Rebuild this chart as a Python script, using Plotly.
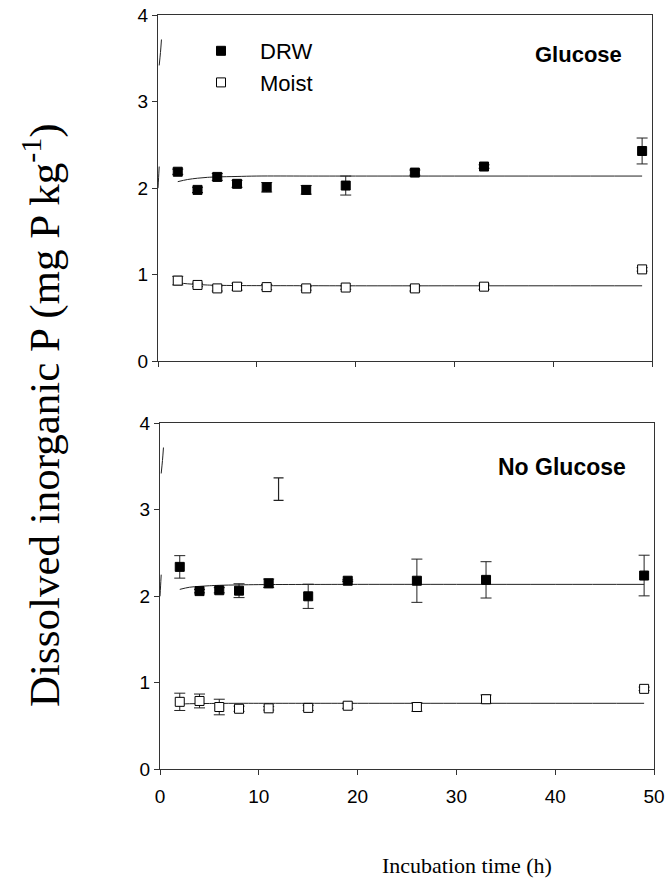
import plotly.graph_objects as go

# ---- data ----
time_h = [2, 4, 6, 8, 11, 15, 19, 26, 33, 49]

glu_drw = [2.19, 1.98, 2.13, 2.05, 2.01, 1.98, 2.03, 2.18, 2.25, 2.43]
glu_drw_err = [0.03, 0.03, 0.04, 0.04, 0.055, 0.05, 0.11, 0.03, 0.02, 0.15]
glu_moist = [0.93, 0.88, 0.84, 0.86, 0.855, 0.84, 0.85, 0.84, 0.86, 1.06]
glu_moist_err = [0.05, 0.02, 0.03, 0.04, 0.03, 0.02, 0.02, 0.03, 0.03, 0.02]

nog_drw = [2.34, 2.06, 2.07, 2.065, 2.15, 2.00, 2.18, 2.18, 2.19, 2.24]
nog_drw_err = [0.13, 0.02, 0.03, 0.08, 0.05, 0.14, 0.01, 0.25, 0.21, 0.235]
nog_moist = [0.78, 0.79, 0.72, 0.70, 0.705, 0.71, 0.735, 0.72, 0.81, 0.93]
nog_moist_err = [0.10, 0.08, 0.09, 0.03, 0.02, 0.03, 0.03, 0.05, 0.05, 0.02]

# fitted curves
fit_x = [2, 3, 4, 5, 6, 8, 10, 15, 20, 30, 40, 49]
glu_drw_fit = [2.075, 2.10, 2.115, 2.125, 2.13, 2.135, 2.14, 2.14, 2.14, 2.14, 2.14, 2.14]
glu_moist_fit = [0.905, 0.893, 0.885, 0.879, 0.876, 0.873, 0.872, 0.871, 0.87, 0.87, 0.87, 0.87]
nog_drw_fit = [2.08, 2.105, 2.115, 2.122, 2.127, 2.132, 2.135, 2.137, 2.138, 2.138, 2.138, 2.138]
nog_moist_fit = [0.755, 0.758, 0.76, 0.761, 0.762, 0.763, 0.763, 0.763, 0.763, 0.763, 0.763, 0.763]

# stray error bar in lower panel
stray_x = [12]
stray_y = [3.24]
stray_err = [0.13]

# small stray strokes near the left axes
stroke_x = [0.35, 0.25, 0.12]
stroke_y = [3.72, 3.57, 3.42]
stroke2_x = [0.12, 0.06, 0.0]
stroke2_y = [2.25, 2.12, 2.0]

x_ticks = [0, 10, 20, 30, 40, 50]
y_ticks = [0, 1, 2, 3, 4]

AX = "#333333"
fig = go.Figure()

def add_panel(xa, ya, drw, drw_err, moist, moist_err, drw_fit, moist_fit, legend):
    fig.add_trace(go.Scatter(x=fit_x, y=drw_fit, mode="lines", line=dict(color="#222", width=1, shape="spline"),
                             xaxis=xa, yaxis=ya, showlegend=False, hoverinfo="skip"))
    fig.add_trace(go.Scatter(x=fit_x, y=moist_fit, mode="lines", line=dict(color="#222", width=1, shape="spline"),
                             xaxis=xa, yaxis=ya, showlegend=False, hoverinfo="skip"))
    fig.add_trace(go.Scatter(x=time_h, y=drw, mode="markers", name="DRW",
                             marker=dict(symbol="square", size=9, color="black", line=dict(color="black", width=1)),
                             error_y=dict(type="data", array=drw_err, color="#222", thickness=1, width=5.5),
                             xaxis=xa, yaxis=ya, showlegend=legend))
    fig.add_trace(go.Scatter(x=time_h, y=moist, mode="markers", name="Moist",
                             marker=dict(symbol="square", size=9, color="white", line=dict(color="black", width=1)),
                             error_y=dict(type="data", array=moist_err, color="#222", thickness=1, width=5.5),
                             xaxis=xa, yaxis=ya, showlegend=legend))
    for sx, sy in ((stroke_x, stroke_y), (stroke2_x, stroke2_y)):
        fig.add_trace(go.Scatter(x=sx, y=sy, mode="lines", line=dict(color="#222", width=1, shape="spline"),
                                 xaxis=xa, yaxis=ya, showlegend=False, hoverinfo="skip", cliponaxis=False))

add_panel("x", "y", glu_drw, glu_drw_err, glu_moist, glu_moist_err, glu_drw_fit, glu_moist_fit, True)
add_panel("x2", "y2", nog_drw, nog_drw_err, nog_moist, nog_moist_err, nog_drw_fit, nog_moist_fit, False)

fig.add_trace(go.Scatter(x=stray_x, y=stray_y, mode="markers", marker=dict(size=1, color="rgba(0,0,0,0)"),
                         error_y=dict(type="data", array=stray_err, color="#222", thickness=1.2, width=5),
                         xaxis="x2", yaxis="y2", showlegend=False, hoverinfo="skip"))

W, H = 666, 895
tickfont = dict(family="Liberation Sans, Arial, sans-serif", size=19, color="black")
axcommon = dict(showline=True, linecolor=AX, linewidth=1, mirror=True, showgrid=False, zeroline=False,
                ticks="outside", ticklen=5, tickcolor=AX, tickfont=tickfont, automargin=False)

fig.update_layout(
    width=W, height=H,
    margin=dict(l=0, r=0, t=0, b=0, autoexpand=False),
    paper_bgcolor="white", plot_bgcolor="white",
    xaxis=dict(domain=[158 / W, 652 / W], range=[0, 50], tickvals=x_ticks, showticklabels=False,
               anchor="y", **axcommon),
    yaxis=dict(domain=[1 - 361 / H, 1 - 15.3 / H], range=[0, 4], tickvals=y_ticks, anchor="x", **axcommon),
    xaxis2=dict(domain=[160 / W, 654 / W], range=[0, 50], tickvals=x_ticks, anchor="y2",
                ticklabelstandoff=5, **axcommon),
    yaxis2=dict(domain=[1 - 769.3 / H, 1 - 423.3 / H], range=[0, 4], tickvals=y_ticks, anchor="x2", **axcommon),
    legend=dict(x=182 / W, y=1 - 30 / H, xanchor="left", yanchor="top", bgcolor="rgba(0,0,0,0)",
                font=dict(family="Liberation Sans, Arial, sans-serif", size=22, color="black"),
                itemwidth=68, tracegroupgap=0),
    showlegend=True,
    annotations=[
        dict(text="<b>Glucose</b>", x=624 / W, y=1 - 55 / H, xref="paper", yref="paper",
             xanchor="right", yanchor="middle", showarrow=False,
             font=dict(family="Liberation Sans, Arial, sans-serif", size=22, color="black")),
        dict(text="<b>No Glucose</b>", x=628 / W, y=1 - 467 / H, xref="paper", yref="paper",
             xanchor="right", yanchor="middle", showarrow=False,
             font=dict(family="Liberation Sans, Arial, sans-serif", size=23, color="black")),
        dict(text="Dissolved inorganic P (mg P kg<sup>-1</sup>)", x=41 / W, y=1 - 415 / H,
             xref="paper", yref="paper", xanchor="center", yanchor="middle", textangle=-90,
             showarrow=False, font=dict(family="Liberation Serif, Times New Roman, serif", size=43, color="black")),
        dict(text="Incubation time (h)", x=467 / W, y=1 - 865 / H, xref="paper", yref="paper",
             xanchor="center", yanchor="middle", showarrow=False,
             font=dict(family="Liberation Serif, Times New Roman, serif", size=22, color="black")),
    ],
)

fig.write_html("out.html")
